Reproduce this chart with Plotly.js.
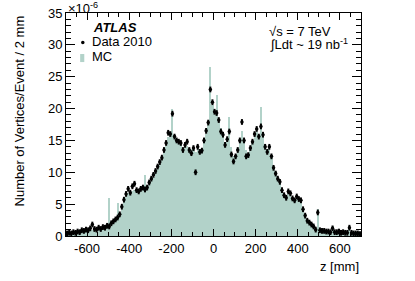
<!DOCTYPE html>
<html>
<head>
<meta charset="utf-8">
<script src="https://cdn.plot.ly/plotly-3.0.1.min.js"></script>
<style>html,body{margin:0;padding:0;background:#fff;}#chart{width:415px;height:281px;}</style>
</head>
<body>
<div id="chart"></div>
<script>
// bin width 10 mm, first bin centre at -695 mm
const binStart = -695;
const binWidth = 10;
const dataValues = [
 0.4,0.5,0.4,0.6,0.5,0.7,0.6,0.9,0.8,1.0,
 0.9,1.2,1.8,1.1,1.0,1.3,1.1,1.4,1.3,1.6,
 1.5,2.0,2.3,2.6,2.9,3.4,4.6,5.7,6.6,7.4,
 6.8,7.8,8.2,7.2,7.0,7.4,7.6,7.3,7.6,8.4,
 9.0,9.6,10.2,10.9,11.6,12.3,13.5,14.6,16.2,16.0,
 19.2,15.6,15.0,14.8,14.6,13.5,14.3,14.8,13.5,13.0,
 13.8,10.0,14.0,13.2,13.4,15.0,16.5,17.8,23.0,21.0,
 19.5,19.3,18.2,16.4,15.9,14.3,15.2,16.4,12.8,11.7,
 12.5,13.5,15.0,17.9,15.0,12.5,12.7,13.8,14.8,16.0,
 16.8,15.6,17.2,15.9,14.0,13.2,14.0,12.5,10.7,9.8,
 9.0,8.5,7.2,6.4,6.0,7.0,6.7,5.9,5.6,6.2,
 5.8,5.6,4.2,3.2,2.4,2.1,1.8,1.5,1.0,3.7,
 0.9,0.8,0.8,0.7,0.7,0.6,1.2,0.6,0.6,0.7,
 0.5,0.6,0.5,0.5,1.3,0.5,0.4,0.4,0.4,0.3
];
const mcValues = [
 0.3,0.4,0.4,0.5,0.5,0.5,0.6,0.6,0.7,0.7,
 0.8,0.8,0.9,0.9,1.0,1.0,1.1,1.1,1.2,1.6,
 6.0,2.4,2.2,2.6,5.2,3.4,4.2,5.5,6.2,6.8,
 6.6,7.0,7.2,7.0,7.1,7.2,7.5,9.5,7.4,8.0,
 8.6,9.2,10.0,10.6,11.3,12.2,13.0,14.2,15.6,15.8,
 20.0,15.8,15.2,14.6,14.4,13.8,14.0,14.2,13.8,13.6,
 13.6,13.2,13.8,13.6,13.8,14.6,16.0,17.5,26.5,20.5,
 19.2,22.1,18.4,17.0,15.5,14.8,15.4,18.6,14.0,12.5,
 12.8,13.6,14.8,16.5,15.2,13.5,13.0,13.6,14.6,15.8,
 16.4,15.8,20.2,16.2,14.4,13.6,13.8,12.4,10.8,10.2,
 9.2,8.6,7.6,6.8,6.2,6.6,6.4,6.0,5.8,6.0,
 5.6,5.4,4.4,3.4,2.6,2.2,1.8,1.5,1.1,4.2,
 1.0,0.9,0.8,0.8,0.7,0.7,1.6,0.6,0.6,0.7,
 0.6,0.5,0.5,0.5,1.5,0.5,0.4,0.4,0.3,0.3
];
const dataErr = 0.45;
const yTicks = [0,5,10,15,20,25,30,35];
const xTicks = [-600,-400,-200,0,200,400,600];

const zCentres = dataValues.map((_, i) => binStart + binWidth * i);

const font = {family: 'Liberation Sans, Arial, sans-serif', size: 13, color: '#000'};
const mcColor = 'rgb(178,210,201)';

const traces = [
  {type: 'bar', x: zCentres, y: mcValues, width: binWidth,
   marker: {color: mcColor, line: {width: 0}}, showlegend: false, hoverinfo: 'skip'},
  {type: 'scatter', mode: 'markers', x: zCentres, y: dataValues,
   marker: {color: '#000', size: 3.5},
   error_y: {type: 'constant', value: dataErr, width: 0, thickness: 2, color: '#000'},
   showlegend: false, hoverinfo: 'skip'}
];

const layout = {
  width: 415, height: 281,
  margin: {l: 66, r: 54, t: 13, b: 45},
  paper_bgcolor: '#fff', plot_bgcolor: '#fff',
  font: font,
  bargap: 0,
  showlegend: false,
  xaxis: {
    range: [-700, 700], tickvals: xTicks, ticktext: xTicks.map(String),
    ticks: 'inside', ticklen: 7, tickcolor: '#000', tickwidth: 1,
    showline: true, linecolor: '#000', linewidth: 1, mirror: 'ticks',
    showgrid: false, zeroline: false, tickfont: font,
    minor: {dtick: 50, ticks: 'inside', ticklen: 4, tickcolor: '#000', showgrid: false}
  },
  yaxis: {
    range: [0, 35], tickvals: yTicks, ticktext: yTicks.map(String),
    ticks: 'inside', ticklen: 9, tickcolor: '#000', tickwidth: 1,
    showline: true, linecolor: '#000', linewidth: 1, mirror: 'ticks',
    showgrid: false, zeroline: false, tickfont: font,
    minor: {dtick: 1, ticks: 'inside', ticklen: 5, tickcolor: '#000', showgrid: false}
  },
  annotations: [
    {text: '×10<sup>-6</sup>', xref: 'paper', yref: 'paper', x: 0.0, y: 1.0, yshift: -5,
     xanchor: 'left', yanchor: 'bottom', showarrow: false, font: font},
    {text: 'Number of Vertices/Event / 2 mm', xref: 'paper', yref: 'paper',
     x: -0.156, y: 1.0, xanchor: 'center', yanchor: 'top', textangle: -90,
     showarrow: false, font: font},
    {text: 'z [mm]', xref: 'paper', yref: 'paper', x: 1.0, y: -0.139,
     xanchor: 'right', yanchor: 'middle', showarrow: false, font: font},
    {text: '<b><i>ATLAS</i></b>', xref: 'paper', yref: 'paper', x: 0.085, y: 0.933,
     xanchor: 'left', yanchor: 'middle', showarrow: false, font: font},
    {text: 'Data 2010', xref: 'paper', yref: 'paper', x: 0.08, y: 0.87,
     xanchor: 'left', yanchor: 'middle', showarrow: false, font: font},
    {text: 'MC', xref: 'paper', yref: 'paper', x: 0.08, y: 0.807,
     xanchor: 'left', yanchor: 'middle', showarrow: false, font: font},
    {text: '√s = 7 TeV', xref: 'paper', yref: 'paper', x: 0.68, y: 0.915,
     xanchor: 'left', yanchor: 'middle', showarrow: false, font: font},
    {text: '∫Ldt ~ 19 nb<sup>-1</sup>', xref: 'paper', yref: 'paper', x: 0.685, y: 0.86,
     xanchor: 'left', yanchor: 'middle', showarrow: false, font: font}
  ],
  shapes: [
    {type: 'circle', xref: 'paper', yref: 'paper', x0: 0.051, x1: 0.063, y0: 0.86, y1: 0.876,
     fillcolor: '#000', line: {width: 0}},
    {type: 'rect', xref: 'paper', yref: 'paper', x0: 0.048, x1: 0.062, y0: 0.78, y1: 0.816,
     fillcolor: mcColor, line: {width: 0}}
  ]
};

Plotly.newPlot('chart', traces, layout, {displayModeBar: false, staticPlot: true});
</script>
</body>
</html>
